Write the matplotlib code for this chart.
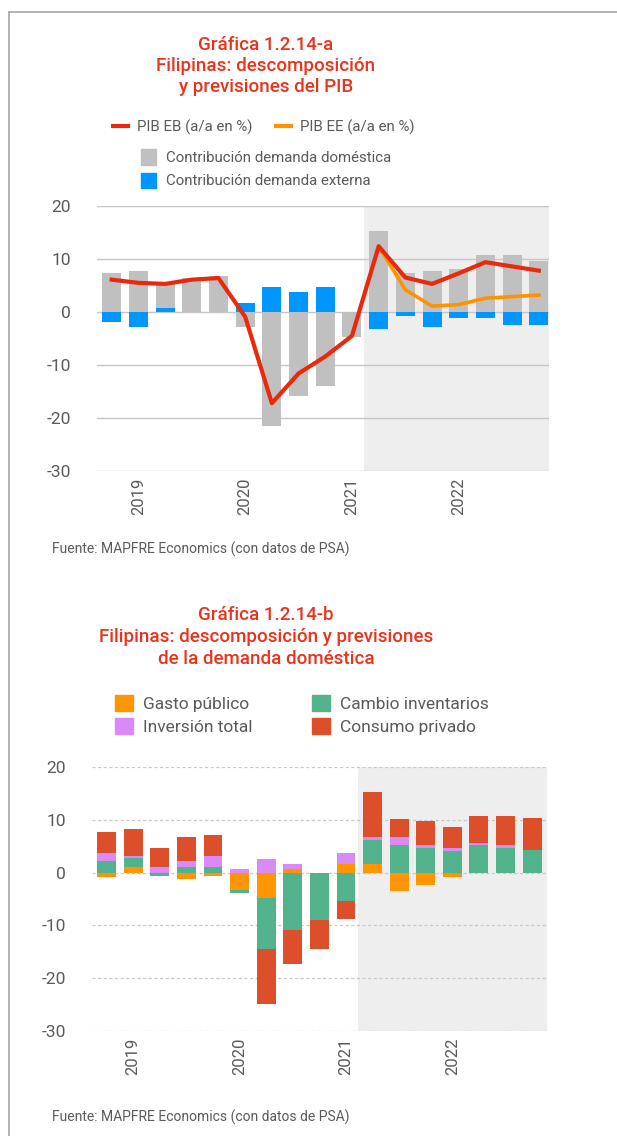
import matplotlib
matplotlib.use('Agg')
import matplotlib.pyplot as plt
from matplotlib import font_manager
from matplotlib.lines import Line2D
from matplotlib.patches import Patch
import numpy as np

# quarterly series, 2018T4 .. 2022T4
trimestres = ['2018T4', '2019T1', '2019T2', '2019T3', '2019T4',
              '2020T1', '2020T2', '2020T3', '2020T4',
              '2021T1', '2021T2', '2021T3', '2021T4',
              '2022T1', '2022T2', '2022T3', '2022T4']
anios = ['2019', '2020', '2021', '2022']
pos_anios = [1, 5, 9, 13]
inicio_prevision = 10  # first forecast quarter (2021T2)

# chart a: GDP and contributions
pib_eb = [6.1, 5.5, 5.3, 6.1, 6.4, -0.9, -17.2, -11.6, -8.4, -4.5,
          12.4, 6.5, 5.3, 7.3, 9.4, 8.6, 7.8]
pib_ee = [np.nan] * 10 + [12.4, 4.2, 1.1, 1.4, 2.6, 2.9, 3.2]
dem_domestica = [7.3, 7.7, 4.8, 6.4, 6.7, -2.8, -21.6, -15.9, -13.9, -4.8,
                 15.2, 7.3, 7.7, 8.2, 10.7, 10.7, 9.7]
dem_externa = [-1.9, -2.8, 0.7, 0.0, 0.0, 1.7, 4.7, 3.7, 4.7, 0.0,
               -3.3, -0.8, -2.8, -1.2, -1.2, -2.4, -2.4]

# chart b: domestic demand breakdown
gasto_publico = [-0.8, 1.1, 0.0, -1.2, -0.7, -3.3, -4.8, 0.75, 0.0, 1.7,
                 1.7, -3.4, -2.3, -0.8, 0.0, 0.0, 0.0]
cambio_inventarios = [2.2, 1.6, -0.7, 1.1, 1.1, -0.6, -9.6, -10.8, -9.0, -5.4,
                      4.5, 5.2, 4.7, 4.1, 5.2, 4.7, 4.3]
inversion_total = [1.5, 0.45, 1.1, 1.1, 2.1, 0.7, 2.6, 0.95, 0.0, 2.1,
                   0.55, 1.5, 0.55, 0.55, 0.4, 0.55, 0.0]
consumo_privado = [3.9, 5.1, 3.6, 4.5, 3.9, 0.0, -10.5, -6.6, -5.4, -3.4,
                   8.45, 3.4, 4.5, 3.9, 5.05, 5.45, 6.0]

installed = {f.name for f in font_manager.fontManager.ttflist}
FONT = next(n for n in ['Roboto', 'Lato', 'DejaVu Sans'] if n in installed)
plt.rcParams['font.family'] = [FONT, 'DejaVu Sans']

TITLE_RED = '#E8341C'
TEXT = '#5A5A5A'
C_EB = '#E8290B'
C_EE = '#FF9200'
C_DOM = '#C0C0C0'
C_EXT = '#0096FF'
C_GASTO = '#FF9500'
C_INV = '#D98AF7'
C_CAMBIO = '#52B28B'
C_CONSUMO = '#DD4E2A'
SHADE = '#EEEEEE'

W, H = 617, 1136
fig = plt.figure(figsize=(W / 100, H / 100), dpi=100)


def fx(px):
    return px / W


def fy(py):
    return 1 - py / H


def axes_px(left, top, right, bottom):
    return fig.add_axes([fx(left), fy(bottom), (right - left) / W, (bottom - top) / H])


def stacked(ax, series, colors, width=0.71):
    x = np.arange(len(trimestres))
    pos = np.zeros(len(x))
    neg = np.zeros(len(x))
    for vals, c in zip(series, colors):
        vals = np.asarray(vals, float)
        base = np.where(vals >= 0, pos, neg)
        ax.bar(x, vals, width, bottom=base, color=c, linewidth=0, zorder=2)
        pos += np.clip(vals, 0, None)
        neg += np.clip(vals, None, 0)


def style_axes(ax, xmax, grid_kw):
    ax.set_ylim(-30, 20)
    ax.set_xlim(-0.55, xmax)
    ax.axvspan(inicio_prevision - 0.55, xmax, color=SHADE, lw=0, zorder=0)
    for s in ax.spines.values():
        s.set_visible(False)
    ticks = list(range(-30, 21, 10))
    ax.set_yticks(ticks)
    ax.set_yticklabels([str(t) for t in ticks])
    ax.set_xticks(pos_anios)
    ax.set_xticklabels(anios, rotation=90)
    ax.tick_params(axis='y', length=0, pad=19, labelsize=12.5, labelcolor=TEXT)
    ax.tick_params(axis='x', length=0, pad=5, labelsize=12, labelcolor=TEXT)
    for t in ticks:
        ax.axhline(t, zorder=0.5, **grid_kw)


# frame lines
fig.add_artist(Line2D([fx(9), fx(9)], [fy(12), 0], color='#A6A6A6', lw=1.2))
fig.add_artist(Line2D([fx(9), 1], [fy(12), fy(12)], color='#A6A6A6', lw=1.2))

# ---- chart a ----
fig.text(fx(266), fy(66), 'Gráfica 1.2.14-a\nFilipinas: descomposición\ny previsiones del PIB',
         ha='center', va='center', color=TITLE_RED, fontsize=13.5,
         fontweight='medium', linespacing=1.25)

fig.legend([Line2D([], [], color=C_EB, lw=3), Line2D([], [], color=C_EE, lw=3)],
           ['PIB EB (a/a en %)', 'PIB EE (a/a en %)'],
           loc='center', bbox_to_anchor=(fx(264), fy(127)), ncol=2, frameon=False,
           fontsize=10.8, handlelength=1.0, handletextpad=0.6, columnspacing=1.6,
           labelcolor=TEXT, borderpad=0)
fig.legend([Patch(color=C_DOM), Patch(color=C_EXT)],
           ['Contribución demanda doméstica', 'Contribución demanda externa'],
           loc='center', bbox_to_anchor=(fx(266), fy(169)), frameon=False,
           fontsize=10.8, handlelength=1.05, handleheight=1.2, handletextpad=0.65,
           labelspacing=0.5, labelcolor=TEXT, borderpad=0)

ax1 = axes_px(97, 206, 549, 471)
style_axes(ax1, 16.38, dict(color='#C6C6C6', lw=1.0))
stacked(ax1, [dem_externa, dem_domestica], [C_EXT, C_DOM])
x = np.arange(len(trimestres))
ax1.plot(x, pib_ee, color=C_EE, lw=2.6, zorder=3)
ax1.plot(x, pib_eb, color=C_EB, lw=3.0, zorder=4)

fig.text(fx(52), fy(549), 'Fuente: MAPFRE Economics (con datos de PSA)',
         fontsize=10, color=TEXT, va='center')

# ---- chart b ----
fig.text(fx(266), fy(637), 'Gráfica 1.2.14-b\nFilipinas: descomposición y previsiones\nde la demanda doméstica',
         ha='center', va='center', color=TITLE_RED, fontsize=13.5,
         fontweight='medium', linespacing=1.25)

fig.legend([Patch(color=C_GASTO), Patch(color=C_INV), Patch(color=C_CAMBIO), Patch(color=C_CONSUMO)],
           ['Gasto público', 'Inversión total', 'Cambio inventarios', 'Consumo privado'],
           loc='center', bbox_to_anchor=(fx(302), fy(715)), ncol=2, frameon=False,
           fontsize=12.5, handlelength=1.05, handleheight=1.05, handletextpad=0.6,
           labelspacing=0.32, columnspacing=3.4, labelcolor=TEXT, borderpad=0)

ax2 = axes_px(92, 767, 547, 1031)
style_axes(ax2, 16.56, dict(color='#C8C8C8', lw=0.9, dashes=(2.5, 2.0)))
stacked(ax2, [gasto_publico, cambio_inventarios, inversion_total, consumo_privado],
        [C_GASTO, C_CAMBIO, C_INV, C_CONSUMO])

fig.text(fx(52), fy(1117), 'Fuente: MAPFRE Economics (con datos de PSA)',
         fontsize=10, color=TEXT, va='center')

fig.savefig('out.png', dpi=100)
